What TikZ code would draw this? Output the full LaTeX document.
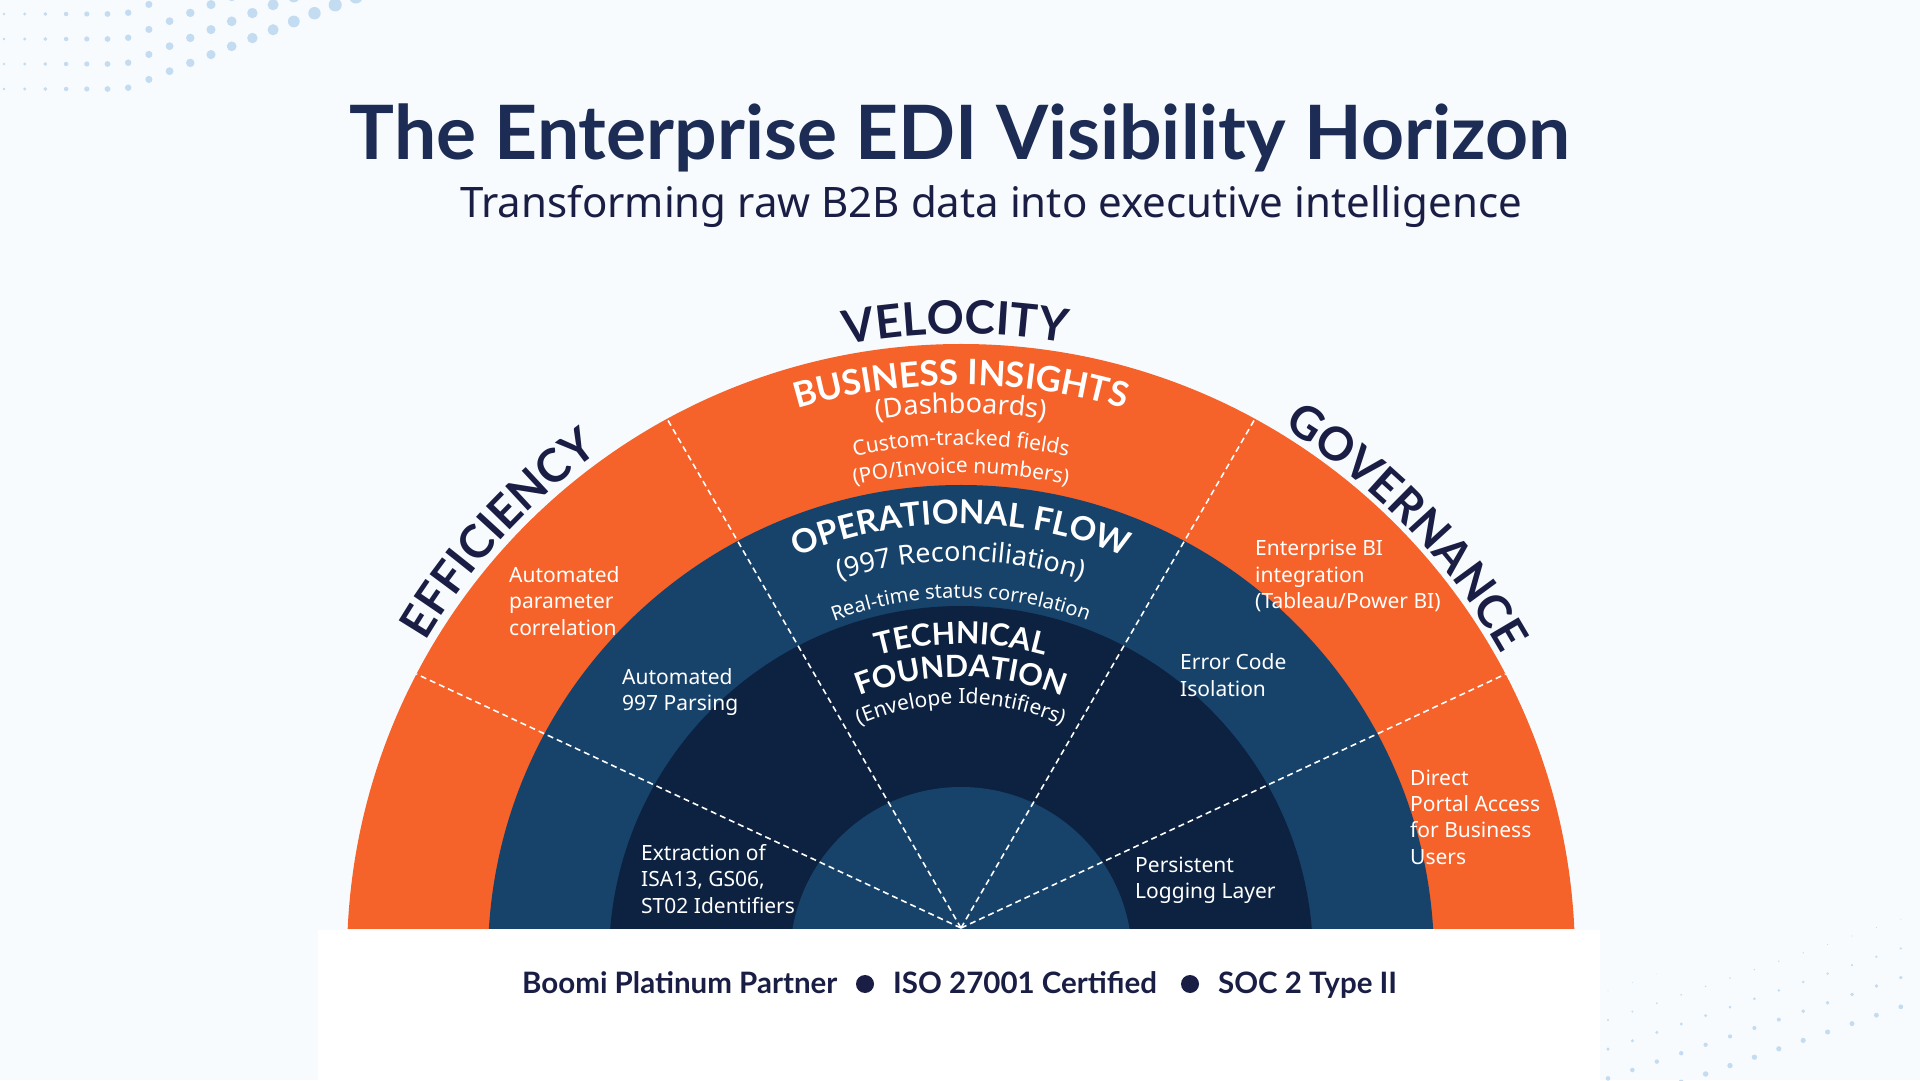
\documentclass[tikz,border=0pt]{standalone}
\usepackage{fontspec}
\setmainfont{Noto Sans}
\newfontfamily\latofont{Lato}
\usetikzlibrary{calc,decorations.text}

\definecolor{bgcol}{HTML}{F8FBFD}
\definecolor{navy}{HTML}{1C2C54}
\definecolor{ink}{HTML}{1A1E45}
\definecolor{orng}{HTML}{F5622A}
\definecolor{ringblue}{HTML}{17436B}
\definecolor{ringdark}{HTML}{0C2240}
\definecolor{dotblue}{HTML}{C4DCF2}

\newcommand\sidefont{\latofont\bfseries\fontsize{46}{46}\selectfont}
\newcommand\headA{\latofont\bfseries\fontsize{35}{35}\selectfont}
\newcommand\headB{\latofont\bfseries\fontsize{33}{33}\selectfont}
\newcommand\headC{\latofont\bfseries\fontsize{30.5}{30.5}\selectfont}
\newcommand\subA{\fontsize{27}{27}\selectfont}
\newcommand\subB{\fontsize{21}{21}\selectfont}
\newcommand\subC{\fontsize{20}{20}\selectfont}

\tikzset{
  ringtext/.style={decorate, decoration={text along path, text align=center, text color=white}},
  sidetext/.style={decorate, decoration={text along path, text align=center, text color=ink}},
  divider/.style={white, line width=1.6pt, dash pattern=on 6pt off 4pt},
  ringnote/.style={text=white, align=left, anchor=west, inner sep=0pt, font=\fontsize{21}{26.3}\selectfont},
  badge/.style={anchor=base west, inner sep=0pt, text=ink, font=\latofont\bfseries\fontsize{29.5}{29.5}\selectfont},
  bullet/.style={circle, fill=ink, inner sep=0pt, minimum size=18pt}
}

\begin{document}
\begin{tikzpicture}[x=1pt,y=1pt]
\useasboundingbox (0,0) rectangle (1920,1080);
\fill[bgcol] (0,0) rectangle (1920,1080);
\fill[white] (318,0) rectangle (1600,150);

% dots, top left
\foreach \i in {0,...,17}{
  \foreach \j in {0,...,3}{
    \pgfmathsetmacro{\dx}{4+20.7*\i}
    \pgfmathsetmacro{\dy}{1080-14-25*\j+max(0,0.40*(\dx-125))}
    \pgfmathsetmacro{\dr}{1.2+0.016*\dx}
    \ifdim\dy pt<1086pt \fill[dotblue] (\dx,\dy) circle (\dr); \fi
  }
}
% dots, bottom right
\foreach \i in {0,...,12}{
  \foreach \j in {-1,...,3}{
    \pgfmathsetmacro{\dx}{1608+24.4*\i}
    \pgfmathsetmacro{\dy}{1020+29.2*\j-8.4*\i}
    \pgfmathsetmacro{\dr}{0.5+0.021*(\dy-991+6.25*\i)}
    \pgfmathsetmacro{\dY}{1080-\dy}
    \ifdim\dr pt>0.4pt \ifdim\dY pt>-6pt \fill[dotblue] (\dx,\dY) circle (\dr); \fi\fi
  }
}

\node (title) [anchor=base, inner sep=0pt, text=navy, font=\latofont\bfseries\fontsize{75}{75}\selectfont] at (960,920) {The Enterprise EDI Visibility Horizon};
\node (subtitle) [anchor=base, inner sep=0pt, text=ink, font=\fontsize{42}{42}\selectfont] at (991,862) {Transforming raw B2B data into executive intelligence};

\coordinate (c) at (961,122);
\coordinate (a) at (961,152);

% rings
\begin{scope}
\clip (0,152) rectangle (1920,1080);
\fill[orng] (c) circle (614);
\fill[ringblue] (c) circle (473);
\fill[ringdark] (c) circle (352);
\fill[ringblue] (c) circle (171);
\end{scope}

% sector lines
\begin{scope}
\clip (c) circle (614);
\clip (0,152) rectangle (1920,1080);
\foreach \ang in {25,60,120,155}
  \draw[divider] (a) -- ++(\ang:700);
\end{scope}

% outer labels
\path[sidetext, decoration={text={|\sidefont|EFFICIENCY}}] ($(c)+(177.5:622)$) arc (177.5:97.5:622);
\path[sidetext, decoration={text={|\sidefont|VELOCITY}}] ($(c)+(130.5:624)$) arc (130.5:50.5:624);
\path[sidetext, decoration={text={|\sidefont|GOVERNANCE}}] ($(c)+(84:620)$) arc (84:4:620);

% ring headings
\path[ringtext, decoration={text={|\headA|BUSINESS INSIGHTS}}] ($(c)+(140:573)$) arc (140:40:573);
\path[ringtext, decoration={text={|\subA|(Dashboards)}}] ($(c)+(140:545)$) arc (140:40:545);
\path[ringtext, decoration={text={|\subB|Custom-tracked fields}}] ($(c)+(140:513)$) arc (140:40:513);
\path[ringtext, decoration={text={|\subB|(PO/Invoice numbers)}}] ($(c)+(140:485)$) arc (140:40:485);
\path[ringtext, decoration={text={|\headB|OPERATIONAL FLOW}}] ($(c)+(140:434)$) arc (140:40:434);
\path[ringtext, decoration={text={|\subA|(997 Reconciliation)}}] ($(c)+(140:397)$) arc (140:40:397);
\path[ringtext, decoration={text={|\subC|Real-time status correlation}}] ($(c)+(140:360)$) arc (140:40:360);
\path[ringtext, decoration={text={|\headC|TECHNICAL}}] ($(c)+(150:314)$) arc (150:30:314);
\path[ringtext, decoration={text={|\headC|FOUNDATION}}] ($(c)+(150:281)$) arc (150:30:281);
\path[ringtext, decoration={text={|\subB|(Envelope Identifiers)}}] ($(c)+(150:254)$) arc (150:30:254);

% sector notes
\node (effA) [ringnote] at (509,479) {Automated\\parameter\\correlation};
\node (effB) [ringnote] at (622,388) {Automated\\997 Parsing};
\node (effC) [ringnote] at (641,201) {Extraction of\\ISA13, GS06,\\ST02 Identifiers};
\node (govA) [ringnote] at (1255,504) {Enterprise BI\\integration\\(Tableau/Power BI)};
\node (govB) [ringnote] at (1180,405) {Error Code\\Isolation};
\node (govC) [ringnote] at (1410,263) {Direct\\Portal Access\\for Business\\Users};
\node (govD) [ringnote] at (1135,200) {Persistent\\Logging Layer};

% footer
\node (boomi) [badge] at (522,87) {Boomi Platinum Partner};
\node (dotA) [bullet] at (865,96) {};
\node (iso) [badge] at (893,87) {ISO 27001 Certified};
\node (dotB) [bullet] at (1190,96) {};
\node (soc) [badge] at (1218,87) {SOC 2 Type II};
\end{tikzpicture}
\end{document}
